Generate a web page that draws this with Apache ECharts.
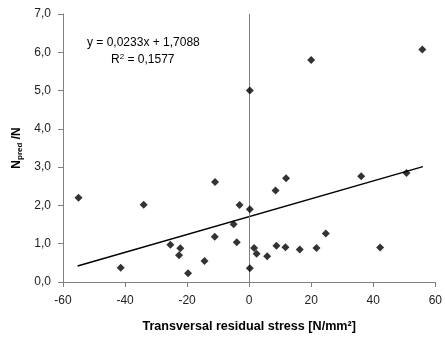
<!DOCTYPE html>
<html><head><meta charset="utf-8">
<script src="https://cdn.jsdelivr.net/npm/echarts@6/dist/echarts.min.js"></script>
<style>html,body{margin:0;padding:0;background:#fff}#c{width:445px;height:340px}</style>
</head><body><div id="c"></div>
<script>
var xValues = [-55, -41.4, -34, -25.4, -22.2, -22.6, -19.7, -14.4, -11.1, -11, -5.0, -4.0, -3.1, 0.2, 0.2, 0.2, 1.6, 2.4, 5.8, 8.5, 8.8, 11.7, 11.9, 16.3, 20, 21.7, 24.7, 36.1, 42.2, 50.7, 55.8];
var yValues = [2.2, 0.37, 2.02, 0.97, 0.88, 0.70, 0.23, 0.55, 1.18, 2.61, 1.51, 1.04, 2.01, 1.90, 0.36, 5.0, 0.89, 0.74, 0.67, 2.39, 0.95, 0.91, 2.71, 0.85, 5.80, 0.89, 1.27, 2.76, 0.90, 2.85, 6.07];
var slope = 0.0233, intercept = 1.7088;
var trendX = [-55.3, 56];
var xTicks = [-60, -40, -20, 0, 20, 40, 60];
var yTicks = [0, 1, 2, 3, 4, 5, 6, 7];
var eqLine1 = "y = 0,0233x + 1,7088";
var eqLine2a = "R";
var eqLine2b = "2";
var eqLine2c = " = 0,1577";

var pts = xValues.map(function(x, i){ return [x, yValues[i]]; });
var trend = trendX.map(function(x){ return [x, slope * x + intercept]; });
var font = "Liberation Sans, Arial, sans-serif";
var axisCol = "#808080";

var chart = echarts.init(document.getElementById('c'), null, {renderer: 'canvas'});
chart.setOption({
  animation: false,
  backgroundColor: '#fff',
  grid: {left: 63, right: 8, top: 14, bottom: 58},
  xAxis: {
    type: 'value', min: -60, max: 60, interval: 20,
    axisLine: {show: true, onZero: false, lineStyle: {color: axisCol, width: 1}},
    axisTick: {show: true, inside: false, length: 5, lineStyle: {color: axisCol}},
    splitLine: {show: false},
    axisLabel: {color: '#222', fontFamily: font, fontSize: 12, margin: 13,
      formatter: function(v){ return String(v); }},
    name: 'Transversal residual stress [N/mm²]',
    nameLocation: 'middle', nameGap: 38,
    nameTextStyle: {color: '#000', fontFamily: font, fontSize: 12.6, fontWeight: 'bold'}
  },
  yAxis: {
    type: 'value', min: 0, max: 7, interval: 1,
    axisLine: {show: true, onZero: false, lineStyle: {color: axisCol, width: 1}},
    axisTick: {show: true, inside: false, length: 5, lineStyle: {color: axisCol}},
    splitLine: {show: false},
    axisLabel: {color: '#222', fontFamily: font, fontSize: 12, margin: 12,
      formatter: function(v){ return v.toFixed(1).replace('.', ','); }},
    name: '{n|N}{s|pred}{n| /N}',
    nameLocation: 'middle', nameGap: 36,
    nameTextStyle: {
      rich: {
        n: {color: '#000', fontFamily: font, fontSize: 12, fontWeight: 'bold'},
        s: {color: '#000', fontFamily: font, fontSize: 8, fontWeight: 'bold', verticalAlign: 'bottom', padding: [6,0,0,0]}
      }
    }
  },
  series: [
    {
      type: 'scatter', data: pts, symbol: 'diamond', symbolSize: 8,
      itemStyle: {color: '#000'}, z: 5,
      markLine: {
        silent: true, symbol: 'none', label: {show: false},
        lineStyle: {color: axisCol, width: 1, type: 'solid'},
        data: [[{coord: [0, 0]}, {coord: [0, 7]}]]
      }
    },
    {
      type: 'line', data: trend, showSymbol: false, symbol: 'none',
      lineStyle: {color: '#000', width: 1.5}, z: 4
    }
  ],
  graphic: [
    {type: 'text', left: 87, top: 37, style: {text: eqLine1, font: '12px ' + font, fill: '#000'}},
    {type: 'text', left: 111, top: 53, style: {
      text: '{n|' + eqLine2a + '}{p|' + eqLine2b + '}{n|' + eqLine2c + '}',
      rich: {
        n: {fontFamily: font, fontSize: 12, fill: '#000', color: '#000'},
        p: {fontFamily: font, fontSize: 8, fill: '#000', color: '#000', verticalAlign: 'top', padding: [0,0,6,0]}
      }
    }}
  ]
});
</script></body></html>
